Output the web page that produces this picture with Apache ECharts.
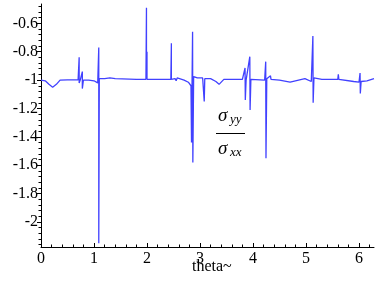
<!DOCTYPE html>
<html>
<head>
<meta charset="utf-8">
<script src="https://cdn.jsdelivr.net/npm/echarts@6/dist/echarts.min.js"></script>
<style>
  html, body { margin: 0; padding: 0; background: #fff; }
  #chart { width: 377px; height: 281px; }
</style>
</head>
<body>
<div id="chart"></div>
<script>
// theta values and the ratio sigma_yy / sigma_xx
const thetaVals = [
  0, 0.08, 0.15, 0.22, 0.29, 0.36, 0.5, 0.7, 0.72, 0.72, 0.74, 0.76, 0.78, 0.78, 0.8,
  0.9, 1.0, 1.07, 1.09, 1.09, 1.1, 1.2, 1.3, 1.4, 1.8, 1.81, 1.82, 1.98, 1.99, 1.99,
  2.0, 2.0, 2.45, 2.46, 2.46, 2.53, 2.55, 2.57, 2.6, 2.7, 2.78, 2.83, 2.84, 2.85, 2.86,
  2.865, 2.88, 2.95, 3.05, 3.08, 3.09, 3.2, 3.3, 3.36, 3.45, 3.8, 3.85, 3.855, 3.87,
  3.94, 3.945, 3.96, 4.22, 4.24, 4.245, 4.26, 4.33, 4.34, 4.5, 4.7, 4.98, 5.1, 5.13,
  5.135, 5.15, 5.3, 5.6, 5.61, 5.62, 5.9, 6.0, 6.02, 6.025, 6.04, 6.15, 6.2832
];
const ratioVals = [
  -1.0, -1.005, -1.03, -1.05, -1.03, -1.0, -0.998, -0.998, -0.84, -1.02, -1.0, -1.0, -0.94, -1.06, -1.0,
  -1.0, -1.005, -1.02, -0.77, -2.15, -0.99, -0.99, -0.985, -0.99, -0.995, -1.0, -0.99, -0.995, -0.49, -0.995,
  -0.8, -0.995, -0.995, -0.74, -0.995, -0.99, -1.005, -0.985, -0.995, -1.0, -1.015, -1.04, -1.44, -1.02, -0.66,
  -1.58, -0.975, -0.985, -0.985, -1.15, -0.99, -0.99, -1.01, -1.03, -0.995, -0.995, -0.915, -1.14, -1.0,
  -0.835, -1.21, -0.995, -1.0, -0.87, -1.55, -0.99, -0.97, -0.995, -1.0, -1.015, -0.99, -1.01, -0.69,
  -1.16, -0.985, -0.995, -0.995, -0.96, -0.995, -1.01, -1.015, -0.95, -1.095, -1.01, -1.005, -0.99
];
const xTickLabels = [0, 1, 2, 3, 4, 5, 6];
const yTickLabels = [-2, -1.8, -1.6, -1.4, -1.2, -1, -0.8, -0.6];

const yMin = -2.176, yMax = -0.464;
const yMinor = [];
for (let v = -2.16; v < yMax; v += 0.04) yMinor.push(+v.toFixed(2));
const xMinor = [];
for (let v = 0.2; v < 6.28; v += 0.2) xMinor.push(+v.toFixed(1));

const chart = echarts.init(document.getElementById('chart'));
const serif = 'Liberation Serif';

const option = {
  animation: false,
  grid: { left: 41, right: 3, top: 4, bottom: 34 },
  xAxis: [
    {
      type: 'value',
      min: 0,
      max: 6.2832,
      axisLine: { onZero: false, lineStyle: { color: '#000', width: 1 } },
      axisTick: { inside: true, length: 4, lineStyle: { color: '#000' }, customValues: xTickLabels },
      splitLine: { show: false },
      axisLabel: {
        margin: 4,
        color: '#000',
        fontFamily: serif,
        fontSize: 16,
        customValues: xTickLabels
      }
    },
    {
      type: 'value',
      min: 0,
      max: 6.2832,
      position: 'bottom',
      axisLine: { show: false },
      axisTick: { inside: true, length: 2.5, lineStyle: { color: '#000' }, customValues: xMinor },
      splitLine: { show: false },
      axisLabel: { show: false }
    }
  ],
  yAxis: [
    {
      type: 'value',
      min: yMin,
      max: yMax,
      position: 'left',
      axisLine: { onZero: false, lineStyle: { color: '#000', width: 1 } },
      axisTick: { length: 4, lineStyle: { color: '#000' }, customValues: yTickLabels },
      splitLine: { show: false },
      axisLabel: {
        margin: 3,
        color: '#000',
        fontFamily: serif,
        fontSize: 16,
        customValues: yTickLabels,
        formatter: v => String(+v.toFixed(1))
      }
    },
    {
      type: 'value',
      min: yMin,
      max: yMax,
      position: 'left',
      axisLine: { show: false },
      axisTick: { length: 2.5, lineStyle: { color: '#000' }, customValues: yMinor },
      splitLine: { show: false },
      axisLabel: { show: false }
    }
  ],
  series: [{
    type: 'line',
    data: thetaVals.map((t, i) => [t, ratioVals[i]]),
    showSymbol: false,
    symbol: 'none',
    sampling: null,
    lineStyle: { color: '#4141ff', width: 1.3 }
  }],
  graphic: [
    { type: 'text', x: 192, y: 259,
      style: { text: 'theta~', fontFamily: serif, fontSize: 16, fill: '#000' } },
    { type: 'text', x: 218, y: 106,
      style: { text: 'σ', fontFamily: serif, fontStyle: 'italic', fontSize: 19, fill: '#000' } },
    { type: 'text', x: 230, y: 113,
      style: { text: 'yy', fontFamily: serif, fontStyle: 'italic', fontSize: 13, fill: '#000' } },
    { type: 'line', shape: { x1: 216, y1: 133.5, x2: 245, y2: 133.5 },
      style: { stroke: '#000', lineWidth: 1 } },
    { type: 'text', x: 218, y: 139,
      style: { text: 'σ', fontFamily: serif, fontStyle: 'italic', fontSize: 19, fill: '#000' } },
    { type: 'text', x: 230, y: 146,
      style: { text: 'xx', fontFamily: serif, fontStyle: 'italic', fontSize: 13, fill: '#000' } }
  ]
};
chart.setOption(option);
</script>
</body>
</html>
